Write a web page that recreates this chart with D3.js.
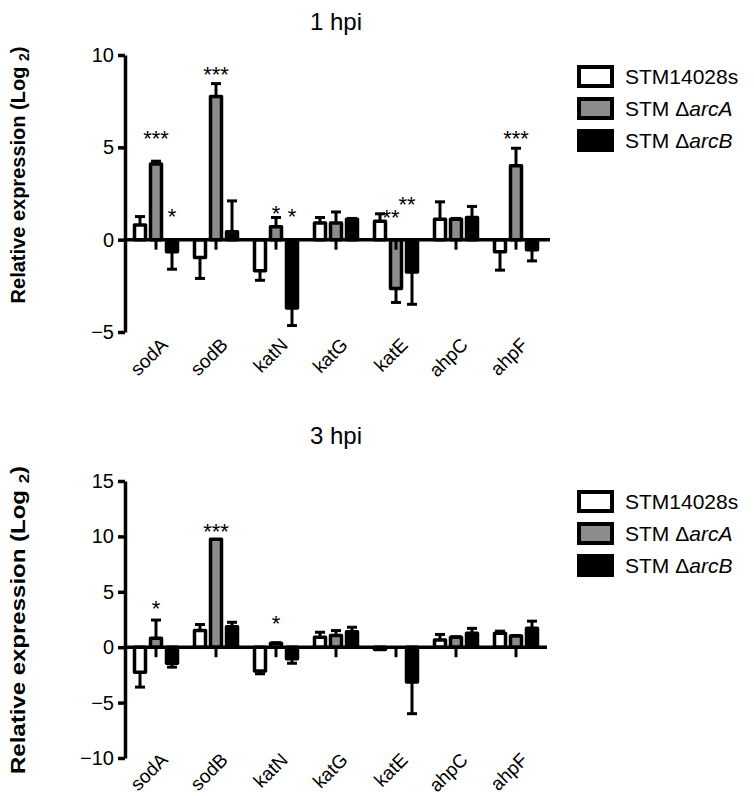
<!DOCTYPE html>
<html>
<head>
<meta charset="utf-8">
<script src="https://cdn.jsdelivr.net/npm/d3@7"></script>
<style>
  html, body { margin: 0; padding: 0; background: #fff; }
  svg { display: block; font-family: Arial, "Liberation Sans", Helvetica, sans-serif; }
</style>
</head>
<body>
<svg id="chart" width="754" height="796"></svg>
<script>
// ---------- DATA ----------
const categories = ["sodA", "sodB", "katN", "katG", "katE", "ahpC", "ahpF"];
const seriesNames = ["STM14028s", "STM ΔarcA", "STM ΔarcB"];

// 1 hpi
const wt1   = [0.8, -0.97, -1.68, 0.9, 1.0, 1.1, -0.65];
const wt1E  = [0.45, 1.13, 0.52, 0.3, 0.4, 0.95, 1.0];
const arcA1  = [4.1, 7.75, 0.7, 0.9, -2.65, 1.1, 4.0];
const arcA1E = [0.15, 0.7, 0.5, 0.6, 0.75, 0.05, 0.95];
const arcB1  = [-0.65, 0.43, -3.7, 1.1, -1.75, 1.2, -0.55];
const arcB1E = [0.95, 1.67, 0.95, 0.05, 1.75, 0.6, 0.6];

// 3 hpi
const wt3   = [-2.25, 1.5, -2.15, 0.9, -0.2, 0.65, 1.25];
const wt3E  = [1.35, 0.55, 0.25, 0.45, 0.0, 0.5, 0.2];
const arcA3  = [0.8, 9.75, 0.35, 1.05, 0.0, 0.9, 1.0];
const arcA3E = [1.65, 0.0, 0.05, 0.45, 0.0, 0.05, 0.05];
const arcB3  = [-1.45, 1.85, -1.05, 1.4, -3.15, 1.25, 1.7];
const arcB3E = [0.35, 0.4, 0.4, 0.4, 2.85, 0.45, 0.65];

// significance annotations: category, series index, y-value of star centre, label
const sig1 = [
  {cat: "sodA", s: 1, y: 5.68, label: "***", dx: 0},
  {cat: "sodA", s: 2, y: 1.46, label: "*",   dx: 0},
  {cat: "sodB", s: 1, y: 9.15, label: "***", dx: 0},
  {cat: "katN", s: 1, y: 1.62, label: "*",   dx: 0},
  {cat: "katN", s: 2, y: 1.46, label: "*",   dx: 0},
  {cat: "katE", s: 1, y: 1.4,  label: "**",  dx: -5},
  {cat: "katE", s: 2, y: 2.1,  label: "**",  dx: -5},
  {cat: "ahpF", s: 1, y: 5.68, label: "***", dx: 0}
];
const sig3 = [
  {cat: "sodA", s: 1, y: 3.8,  label: "*",   dx: 0},
  {cat: "sodB", s: 1, y: 10.8, label: "***", dx: 0},
  {cat: "katN", s: 1, y: 2.45, label: "*",   dx: 0}
];

const ticks1 = [-5, 0, 5, 10];
const ticks3 = [-10, -5, 0, 5, 10, 15];

// ---------- DRAW ----------
const svg = d3.select("#chart");
const fills = ["#ffffff", "#8c8c8c", "#000000"];

const x = d3.scaleBand().domain(categories).range([126, 546]).paddingInner(0.2).paddingOuter(0.1);
const xs = d3.scaleBand().domain([0, 1, 2]).range([0, x.bandwidth()]).paddingInner(0.3125).paddingOuter(0.156);

function panel(cfg) {
  const g = svg.append("g");
  const y = d3.scaleLinear().domain(cfg.domain).range(cfg.range);

  // title
  g.append("text").attr("x", 336).attr("y", cfg.titleY).attr("text-anchor", "middle")
    .attr("font-size", 24).text(cfg.title);

  // y axis label
  const lbl = g.append("text")
    .attr("transform", `translate(${cfg.labelX},${cfg.labelY}) rotate(-90)`)
    .attr("text-anchor", "middle").attr("font-size", 20).attr("font-weight", "bold");
  if (cfg.labelLen) lbl.attr("textLength", cfg.labelLen).attr("lengthAdjust", "spacingAndGlyphs");
  lbl.append("tspan").text("Relative expression (Log ");
  lbl.append("tspan").attr("font-size", 14).attr("dy", 4).text("2");
  lbl.append("tspan").attr("dy", -4).text(")");

  // y axis
  const ax = g.append("g").attr("transform", "translate(125,0)")
    .call(d3.axisLeft(y).tickValues(cfg.ticks).tickSize(7).tickSizeOuter(0).tickPadding(4).tickFormat(d3.format("d")));
  ax.select(".domain").attr("stroke-width", 3.5).attr("stroke", "#000");
  ax.selectAll(".tick line").attr("stroke-width", 3.5).attr("stroke", "#000");
  ax.selectAll(".tick text").attr("font-size", 20).attr("font-family", "Arial, 'Liberation Sans', sans-serif").attr("fill", "#000");

  const series = cfg.series;
  // bars
  series.forEach((s, si) => {
    const grp = g.append("g");
    categories.forEach((c, ci) => {
      const v = s.v[ci], e = s.e[ci];
      const cx = x(c) + xs(si) + xs.bandwidth() / 2;
      // error bar (away from zero)
      if (e > 0) {
        const yEnd = y(v >= 0 ? v + e : v - e);
        grp.append("line").attr("x1", cx).attr("x2", cx).attr("y1", y(v)).attr("y2", yEnd)
          .attr("stroke", "#000").attr("stroke-width", 3);
        grp.append("line").attr("x1", cx - 5).attr("x2", cx + 5).attr("y1", yEnd).attr("y2", yEnd)
          .attr("stroke", "#000").attr("stroke-width", 3);
      }
      const y0 = y(0), y1 = y(v);
      grp.append("rect")
        .attr("x", x(c) + xs(si)).attr("width", xs.bandwidth())
        .attr("y", Math.min(y0, y1)).attr("height", Math.abs(y1 - y0))
        .attr("fill", fills[si]).attr("stroke", "#000").attr("stroke-width", 3.5)
        .attr("stroke-linejoin", "round");
      // grey series stub below baseline
      if (si === 1) {
        grp.append("line").attr("x1", cx).attr("x2", cx).attr("y1", y0).attr("y2", y0 + 10)
          .attr("stroke", "#000").attr("stroke-width", 3);
      }
    });
  });

  // x axis line
  g.append("line").attr("x1", 125).attr("x2", cfg.xEnd).attr("y1", y(0)).attr("y2", y(0))
    .attr("stroke", "#000").attr("stroke-width", 3.5);

  // x labels
  categories.forEach(c => {
    const cx = x(c) + x.bandwidth() / 2;
    g.append("text").attr("text-anchor", "end").attr("font-size", 19)
      .attr("transform", `translate(${cx + 13},${cfg.xLabelY}) rotate(-45)`).text(c);
  });

  // significance
  cfg.sig.forEach(d => {
    const cx = x(d.cat) + xs(d.s) + xs.bandwidth() / 2 + d.dx;
    g.append("text").attr("x", cx).attr("y", y(d.y)).attr("dy", 11)
      .attr("text-anchor", "middle").attr("font-size", 22).text(d.label);
  });

  // legend
  const lg = g.append("g").attr("transform", `translate(577,${cfg.legendY})`);
  seriesNames.forEach((n, i) => {
    const row = lg.append("g").attr("transform", `translate(0,${i * 32})`);
    row.append("rect").attr("x", 2).attr("y", -9).attr("width", 33).attr("height", 19)
      .attr("fill", fills[i]).attr("stroke", "#000").attr("stroke-width", 4);
    const t = row.append("text").attr("x", 48).attr("y", 8).attr("font-size", 21);
    if (i === 0) t.text(n);
    else {
      t.append("tspan").text("STM Δ");
      t.append("tspan").attr("font-style", "italic").text(i === 1 ? "arcA" : "arcB");
    }
  });
}

panel({
  title: "1 hpi", titleY: 30, domain: [-5, 10], range: [332, 55], ticks: ticks1,
  labelX: 25, labelY: 175, labelLen: null,
  series: [{v: wt1, e: wt1E}, {v: arcA1, e: arcA1E}, {v: arcB1, e: arcB1E}],
  sig: sig1, xEnd: 550, xLabelY: 346, legendY: 76
});
panel({
  title: "3 hpi", titleY: 444, domain: [-10, 15], range: [758, 481], ticks: ticks3,
  labelX: 25, labelY: 620, labelLen: 308,
  series: [{v: wt3, e: wt3E}, {v: arcA3, e: arcA3E}, {v: arcB3, e: arcB3E}],
  sig: sig3, xEnd: 547, xLabelY: 761, legendY: 501
});
</script>
</body>
</html>
